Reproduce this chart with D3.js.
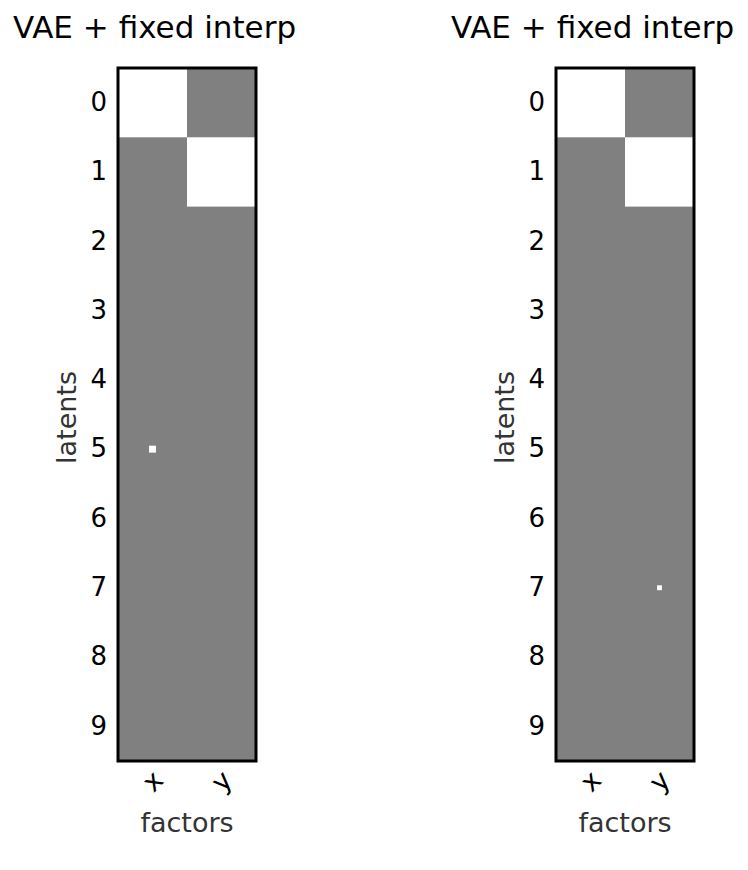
<!DOCTYPE html>
<html>
<head>
<meta charset="utf-8">
<script src="https://cdn.jsdelivr.net/npm/d3@7"></script>
<style>
  body { margin: 0; background: #fff; }
  text { font-family: "DejaVu Sans", sans-serif; }
</style>
</head>
<body>
<div id="chart"></div>
<script>
// factors along x, latents along y
const factors = ["x", "y"];
const latents = ["0", "1", "2", "3", "4", "5", "6", "7", "8", "9"];
const titles = ["VAE + fixed interp", "VAE + fixed interp"];

// hinton weights, rows = latents, cols = factors
const weightsLeft = [
    [1, 0], [0, 1], [0, 0], [0, 0], [0, 0],
    [0.01, 0], [0, 0], [0, 0], [0, 0], [0, 0]
];
const weightsRight = [
    [1, 0], [0, 1], [0, 0], [0, 0], [0, 0],
    [0, 0], [0, 0], [0, 0.005], [0, 0], [0, 0]
];

const W = 748, H = 870;
const svg = d3.select("#chart").append("svg")
    .attr("width", W)
    .attr("height", H);

const panels = [
    {left: 118, title: titles[0], data: weightsLeft},
    {left: 556, title: titles[1], data: weightsRight}
];

const plotTop = 68, plotW = 138, plotH = 693;

panels.forEach(p => {
    let g = svg.append("g")
        .attr("transform", "translate(" + p.left + "," + plotTop + ")");

    let x = d3.scaleBand().domain(factors).range([0, plotW]).padding(0);
    let y = d3.scaleBand().domain(latents).range([0, plotH]).padding(0);

    let maxW = d3.max(p.data.flat(), d => Math.abs(d));
    let size = d3.scaleSqrt().domain([0, maxW]).range([0, x.bandwidth()]);

    // background
    g.append("rect")
        .attr("width", plotW)
        .attr("height", plotH)
        .attr("fill", "#808080");

    let cells = [];
    p.data.forEach((row, i) => row.forEach((v, j) => {
        if (v !== 0) cells.push({lat: latents[i], fac: factors[j], v: v});
    }));

    g.selectAll(".cell")
        .data(cells)
        .enter().append("rect")
        .attr("class", "cell")
        .attr("fill", d => d.v > 0 ? "#fff" : "#000")
        .attr("width", d => size(Math.abs(d.v)))
        .attr("height", d => size(Math.abs(d.v)) * y.bandwidth() / x.bandwidth())
        .attr("x", d => x(d.fac) + (x.bandwidth() - size(Math.abs(d.v))) / 2)
        .attr("y", d => y(d.lat) + (y.bandwidth() - size(Math.abs(d.v)) * y.bandwidth() / x.bandwidth()) / 2);

    // frame
    g.append("rect")
        .attr("width", plotW)
        .attr("height", plotH)
        .attr("fill", "none")
        .attr("stroke", "#000")
        .attr("stroke-width", 3);

    // y axis
    let yAxis = g.append("g")
        .call(d3.axisLeft(y).tickSize(0).tickPadding(11));
    yAxis.select(".domain").remove();
    yAxis.selectAll("text")
        .attr("font-size", 26)
        .attr("fill", "#000");

    // x axis with rotated labels
    let xAxis = g.append("g")
        .attr("transform", "translate(0," + plotH + ")")
        .call(d3.axisBottom(x).tickSize(0));
    xAxis.select(".domain").remove();
    xAxis.selectAll("text")
        .attr("font-size", 27)
        .attr("fill", "#000")
        .attr("y", 0)
        .attr("dy", "0.35em")
        .attr("text-anchor", "middle")
        .attr("transform", "translate(0,20) rotate(-45)");

    // labels
    g.append("text")
        .attr("x", plotW / 2)
        .attr("y", plotH + 71)
        .attr("text-anchor", "middle")
        .attr("font-size", 27)
        .attr("fill", "#333")
        .text("factors");

    g.append("text")
        .attr("transform", "translate(-42," + (plotH / 2 + 3) + ") rotate(-90)")
        .attr("text-anchor", "middle")
        .attr("font-size", 27)
        .attr("fill", "#333")
        .text("latents");

    g.append("text")
        .attr("x", plotW / 2 - 32.5)
        .attr("y", 38 - plotTop)
        .attr("text-anchor", "middle")
        .attr("font-size", 31)
        .attr("fill", "#000")
        .text(p.title);
});
</script>
</body>
</html>
